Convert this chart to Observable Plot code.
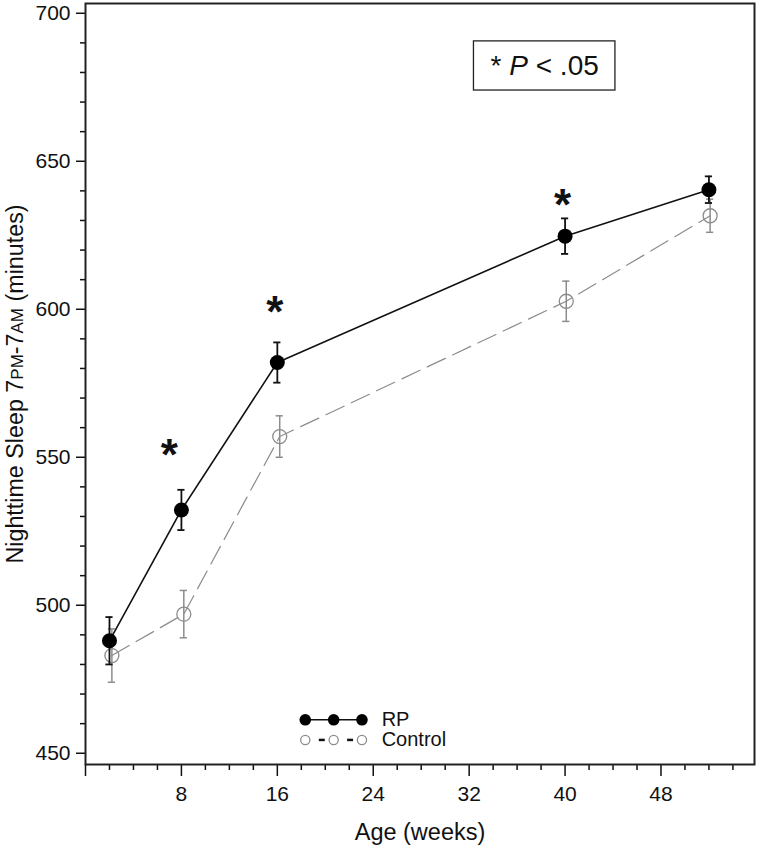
<!DOCTYPE html>
<html><head><meta charset="utf-8">
<script src="https://cdn.jsdelivr.net/npm/d3@7"></script>
<script src="https://cdn.jsdelivr.net/npm/@observablehq/plot@0.6"></script>
<style>body{margin:0;background:#fff;} svg{display:block;}</style>
</head><body><div id="chart"></div>
<script>
// ---- data ----
const ages = [2, 8, 16, 40, 52];
const rpMean = [488, 532.2, 582, 624.7, 640.4];
const rpErr = [8, 6.8, 6.8, 6, 4.5];
const ctlAges = [2.2, 8.2, 16.2, 40.1, 52.1];
const ctlMean = [483, 497, 557, 602.7, 631.6];
const ctlErr = [9, 8, 7, 6.8, 5.6];
const starAges = [7.0, 15.8, 39.8];
const starValues = [553.6, 601.8, 637.8];
const xMajorTicks = [0, 8, 16, 24, 32, 40, 48];
const xMinorTicks = [2, 4, 6, 10, 12, 14, 18, 20, 22, 26, 28, 30, 34, 36, 38, 42, 44, 46, 50, 52, 54];
const yMajorTicks = [450, 500, 550, 600, 650, 700];
const yMinorTicks = [460, 470, 480, 490, 510, 520, 530, 540, 560, 570, 580, 590, 610, 620, 630, 640, 660, 670, 680, 690];
const seriesNames = ["RP", "Control"];
const sigText = "* P < .05";

// ---- tables ----
const rp = ages.map((a, i) => ({age: a, mean: rpMean[i], err: rpErr[i]}));
const ctl = ctlAges.map((a, i) => ({age: a, mean: ctlMean[i], err: ctlErr[i]}));
const stars = starAges.map((a, i) => ({age: a, v: starValues[i]}));

// ---- layout (legend / annotation placement in data units) ----
const legDotX = [18.33, 20.7, 23.06];
const legTextX = 24.7;
const legRowY = {RP: 461.3, Control: 454.5};
const legRP = legDotX.map(x => ({x, y: legRowY.RP}));
const legCtl = legDotX.map(x => ({x, y: legRowY.Control}));
const legDash = legDotX.slice(1).map(x => ({x1: x - 1.2, x2: x - 0.7, y: legRowY.Control}));
const legText = seriesNames.map(s => ({s, x: legTextX, y: legRowY[s]}));
const box = [{x1: 32.4, x2: 44.2, y1: 673.9, y2: 690.5}];

const gray = "#8c8c8c";
const capW = 0.3;

const plot = Plot.plot({
  width: 760, height: 850,
  marginLeft: 85, marginRight: 6, marginTop: 3, marginBottom: 86,
  style: {fontFamily: "Arial, 'Liberation Sans', sans-serif", fontSize: "21px", color: "#111", background: "#fff"},
  x: {domain: [0, 55.8]},
  y: {domain: [446.2, 703.3]},
  marks: [
    Plot.axisY({ticks: yMinorTicks, tickSize: 5, tickFormat: () => "", label: null, strokeWidth: 1.5}),
    Plot.axisY({ticks: yMajorTicks, tickSize: 9, tickPadding: 6, label: null, strokeWidth: 1.5, fontSize: 21}),
    Plot.axisX({ticks: xMinorTicks, tickSize: 6, tickFormat: () => "", label: null, strokeWidth: 1.5}),
    Plot.axisX({ticks: xMajorTicks, tickSize: 12, tickPadding: 10, tickFormat: d => d === 0 ? "" : d, label: null, strokeWidth: 1.5, fontSize: 21}),
    Plot.frame({stroke: "#222", strokeWidth: 2}),
    // control series
    Plot.line(ctl, {x: "age", y: "mean", stroke: gray, strokeWidth: 1.2, strokeDasharray: "20,8"}),
    Plot.ruleX(ctl, {x: "age", y1: d => d.mean - d.err, y2: d => d.mean + d.err, stroke: gray, strokeWidth: 1.5}),
    Plot.ruleY(ctl, {y: d => d.mean - d.err, x1: d => d.age - capW, x2: d => d.age + capW, stroke: gray, strokeWidth: 1.5}),
    Plot.ruleY(ctl, {y: d => d.mean + d.err, x1: d => d.age - capW, x2: d => d.age + capW, stroke: gray, strokeWidth: 1.5}),
    Plot.dot(ctl, {x: "age", y: "mean", r: 7, stroke: gray, fill: "none", strokeWidth: 1.3}),
    // RP series
    Plot.line(rp, {x: "age", y: "mean", stroke: "#111", strokeWidth: 1.6}),
    Plot.ruleX(rp, {x: "age", y1: d => d.mean - d.err, y2: d => d.mean + d.err, stroke: "#111", strokeWidth: 1.8}),
    Plot.ruleY(rp, {y: d => d.mean - d.err, x1: d => d.age - capW, x2: d => d.age + capW, stroke: "#111", strokeWidth: 1.8}),
    Plot.ruleY(rp, {y: d => d.mean + d.err, x1: d => d.age - capW, x2: d => d.age + capW, stroke: "#111", strokeWidth: 1.8}),
    Plot.dot(rp, {x: "age", y: "mean", r: 7.5, fill: "#000"}),
    // significance stars
    Plot.text(stars, {x: "age", y: "v", text: () => "*", fontSize: 44, fontWeight: "bold", fill: "#111", dy: 9}),
    // annotation box
    Plot.rect(box, {x1: "x1", x2: "x2", y1: "y1", y2: "y2", stroke: "#222", strokeWidth: 1.3, fill: "none"}),
    Plot.text([sigText], {x: (box[0].x1 + box[0].x2) / 2, y: (box[0].y1 + box[0].y2) / 2, text: d => d, fontSize: 28, fill: "#111", className: "sigtext"}),
    // legend
    Plot.line(legRP, {x: "x", y: "y", stroke: "#111", strokeWidth: 1.6}),
    Plot.dot(legRP, {x: "x", y: "y", r: 5.8, fill: "#000"}),
    Plot.dot(legCtl, {x: "x", y: "y", r: 4.6, stroke: gray, fill: "none", strokeWidth: 1.3}),
    Plot.ruleY(legDash, {y: "y", x1: "x1", x2: "x2", stroke: "#111", strokeWidth: 2.5}),
    Plot.text(legText, {x: "x", y: "y", text: "s", textAnchor: "start", fontSize: 20, fill: "#111"}),
    // axis labels
    Plot.text(["Age (weeks)"], {frameAnchor: "bottom", dy: 75, text: d => d, fontSize: 23.5, fill: "#111"}),
    Plot.text(["Nighttime Sleep 7PM-7AM (minutes)"], {frameAnchor: "left", textAnchor: "middle", dx: -70, rotate: -90, text: d => d, fontSize: 23.3, fill: "#111", className: "ylab"})
  ]
});

document.getElementById("chart").appendChild(plot);

// mixed-style text: italic P, small-size PM / AM
const svg = d3.select(plot);
const st = svg.select(".sigtext text");
st.text(null);
st.append("tspan").text("* ");
st.append("tspan").attr("font-style", "italic").text("P");
st.append("tspan").text(" < .05");

const yl = svg.select(".ylab text");
yl.text(null);
yl.append("tspan").text("Nighttime Sleep 7");
yl.append("tspan").attr("font-size", 17).text("PM");
yl.append("tspan").text("-7");
yl.append("tspan").attr("font-size", 17).text("AM");
yl.append("tspan").text(" (minutes)");
</script>
</body></html>
